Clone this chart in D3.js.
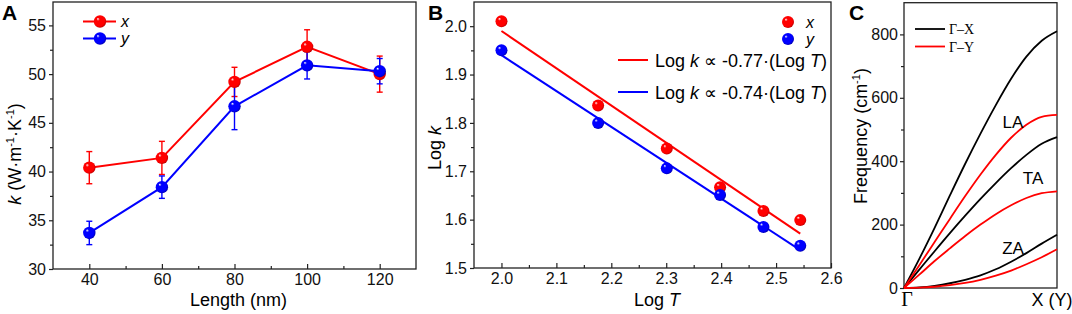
<!DOCTYPE html>
<html><head><meta charset="utf-8">
<script src="https://cdn.jsdelivr.net/npm/d3@7/dist/d3.min.js"></script>
<style>
body{margin:0;background:#fff;}
svg{display:block;font-family:Arial,"Liberation Sans",sans-serif;}
</style></head>
<body><svg id="c" width="1072" height="314"></svg>
<script>
// ---------- Panel A data ----------
const lengths = [40, 60, 80, 100, 120];
const kX = [40.4, 41.4, 49.2, 52.8, 50.0];
const kXErr = [1.65, 1.7, 1.5, 1.75, 1.85];
const kY = [33.7, 38.4, 46.7, 50.9, 50.3];
const kYErr = [1.2, 1.15, 2.4, 1.4, 1.3];
const ticksA_x = [40, 60, 80, 100, 120];
const ticksA_y = [30, 35, 40, 45, 50, 55];

// ---------- Panel B data ----------
const logT = [2.0, 2.176, 2.301, 2.398, 2.477, 2.544];
const logKx = [2.01, 1.836, 1.747, 1.667, 1.618, 1.599];
const logKy = [1.95, 1.80, 1.706, 1.651, 1.585, 1.546];
const fitT = [2.0, 2.544];
const fitKx = [1.99, 1.571];
const fitKy = [1.94, 1.537];
const ticksB_x = [2.0, 2.1, 2.2, 2.3, 2.4, 2.5, 2.6];
const ticksB_y = [1.5, 1.6, 1.7, 1.8, 1.9, 2.0];

// ---------- Panel C data ----------
const q = [0, 0.1, 0.2, 0.3, 0.4, 0.5, 0.6, 0.7, 0.8, 0.9, 1.0];
const laX = [0, 92, 190, 292, 392, 487, 577, 660, 730, 780, 810];
const laY = [0, 72, 145, 218, 290, 358, 420, 474, 515, 540, 546];
const taX = [0, 58, 116, 173, 228, 281, 331, 378, 420, 455, 476];
const taY = [0, 42, 85, 125, 164, 200, 233, 261, 284, 299, 305];
const zaX = [0, 2, 7, 15, 26, 40, 59, 83, 110, 140, 168];
const zaY = [0, 1, 4, 9, 16, 26, 39, 55, 75, 97, 122];
const ticksC_y = [0, 200, 400, 600, 800];

const RED = "#ff0000", BLUE = "#0000ff", FRAME = "#222";
const svg = d3.select("#c");

// sphere gradients
const defs = svg.append("defs");
function grad(id, col, dark) {
  const g = defs.append("radialGradient").attr("id", id)
    .attr("cx", "0.45").attr("cy", "0.45").attr("r", "0.6")
    .attr("fx", "0.32").attr("fy", "0.28");
  g.append("stop").attr("offset", "0").attr("stop-color", "#ffffff");
  g.append("stop").attr("offset", "0.22").attr("stop-color", col);
  g.append("stop").attr("offset", "0.75").attr("stop-color", col);
  g.append("stop").attr("offset", "1").attr("stop-color", dark);
}
grad("gR", RED, "#b00000");
grad("gB", BLUE, "#0000a0");

function frame(g, x0, x1, y0, y1) {
  g.append("rect").attr("x", x0).attr("y", y0).attr("width", x1 - x0).attr("height", y1 - y0)
    .attr("fill", "none").attr("stroke", FRAME).attr("stroke-width", 1.3);
}
function styleAxis(a) {
  a.select(".domain").remove();
  a.selectAll("line").attr("stroke", FRAME).attr("stroke-width", 1.2);
  a.selectAll("text").attr("font-size", 16).attr("fill", "#111");
}

// ================= Panel A =================
(function () {
  const L = 53, R = 416, T = 2, B = 269;
  const x = d3.scaleLinear().domain([30, 130]).range([L, R]);
  const y = d3.scaleLinear().domain([30, 57.4]).range([B, T]);
  const g = svg.append("g");
  const ax = g.append("g").attr("transform", `translate(0,${B})`)
    .call(d3.axisBottom(x).tickValues(d3.range(50, 130, 20)).tickSize(-3).tickFormat(""));
  styleAxis(ax);
  const ax2 = g.append("g").attr("transform", `translate(0,${B})`)
    .call(d3.axisBottom(x).tickValues(ticksA_x).tickSizeInner(-5).tickSizeOuter(0).tickPadding(5));
  styleAxis(ax2);
  ax2.selectAll("text").attr("dy", "0.71em");
  const ay = g.append("g").attr("transform", `translate(${L},0)`)
    .call(d3.axisLeft(y).tickValues(d3.range(32.5, 57.5, 5)).tickSize(3).tickFormat(""));
  styleAxis(ay);
  const ay2 = g.append("g").attr("transform", `translate(${L},0)`)
    .call(d3.axisLeft(y).tickValues(ticksA_y).tickSize(4).tickPadding(3));
  styleAxis(ay2);
  frame(g, L, R, T, B);

  const series = [{v: kX, e: kXErr, c: RED, gid: "gR"}, {v: kY, e: kYErr, c: BLUE, gid: "gB"}];
  series.forEach(s => {
    const line = d3.line().x((d, i) => x(lengths[i])).y(d => y(d));
    g.append("path").attr("d", line(s.v)).attr("fill", "none").attr("stroke", s.c).attr("stroke-width", 2);
  });
  series.forEach(s => {
    s.v.forEach((d, i) => {
      const cx = x(lengths[i]), y1 = y(d + s.e[i]), y0 = y(d - s.e[i]);
      g.append("line").attr("x1", cx).attr("x2", cx).attr("y1", y1).attr("y2", y0).attr("stroke", s.c).attr("stroke-width", 1.4);
      [y0, y1].forEach(yy => g.append("line").attr("x1", cx - 3).attr("x2", cx + 3).attr("y1", yy).attr("y2", yy).attr("stroke", s.c).attr("stroke-width", 1.4));
    });
  });
  series.forEach(s => {
    g.selectAll(null).data(s.v).enter().append("circle")
      .attr("cx", (d, i) => x(lengths[i])).attr("cy", d => y(d)).attr("r", 6.2)
      .attr("fill", `url(#${s.gid})`);
  });
  // legend
  [[RED, "gR", "x", 21.5], [BLUE, "gB", "y", 38.5]].forEach(([c, gid, t, yy]) => {
    g.append("line").attr("x1", 83).attr("x2", 116).attr("y1", yy).attr("y2", yy).attr("stroke", c).attr("stroke-width", 2);
    g.append("circle").attr("cx", 100).attr("cy", yy).attr("r", 6.2).attr("fill", `url(#${gid})`);
    g.append("text").attr("x", 121).attr("y", yy + 5.5).attr("font-size", 16).attr("font-style", "italic").text(t);
  });
  // labels
  g.append("text").attr("x", 2).attr("y", 20).attr("font-size", 21).attr("font-weight", "bold").text("A");
  g.append("text").attr("x", x(80) + 4).attr("y", 306).attr("text-anchor", "middle").attr("font-size", 18).text("Length (nm)");
  const yl = g.append("text").attr("transform", "translate(21,154) rotate(-90)").attr("text-anchor", "middle").attr("font-size", 18);
  yl.append("tspan").attr("font-style", "italic").text("k");
  yl.append("tspan").text(" (W·m");
  yl.append("tspan").attr("font-size", 11).attr("dy", -7).text("-1");
  yl.append("tspan").attr("dy", 7).text("·K");
  yl.append("tspan").attr("font-size", 11).attr("dy", -7).text("-1");
  yl.append("tspan").attr("dy", 7).text(")");
})();

// ================= Panel B =================
(function () {
  const L = 474, R = 831, T = 2, B = 268;
  const x = d3.scaleLinear().domain([1.95, 2.6]).range([L, R]);
  const y = d3.scaleLinear().domain([1.5, 2.05]).range([B, T]);
  const g = svg.append("g");
  const ax = g.append("g").attr("transform", `translate(0,${B})`)
    .call(d3.axisBottom(x).tickValues(d3.range(2.05, 2.6, 0.1)).tickSize(-3).tickFormat(""));
  styleAxis(ax);
  const ax2 = g.append("g").attr("transform", `translate(0,${B})`)
    .call(d3.axisBottom(x).tickValues(ticksB_x).tickSizeInner(-5).tickSizeOuter(0).tickPadding(5).tickFormat(d3.format(".1f")));
  styleAxis(ax2);
  ax2.selectAll("text").attr("dy", "0.71em");
  const ay = g.append("g").attr("transform", `translate(${L},0)`)
    .call(d3.axisLeft(y).tickValues(d3.range(1.55, 2.05, 0.1)).tickSize(3).tickFormat(""));
  styleAxis(ay);
  const ay2 = g.append("g").attr("transform", `translate(${L},0)`)
    .call(d3.axisLeft(y).tickValues(ticksB_y).tickSize(4).tickPadding(3).tickFormat(d3.format(".1f")));
  styleAxis(ay2);
  frame(g, L, R, T, B);

  const line = d3.line().x((d, i) => x(fitT[i])).y(d => y(d));
  g.append("path").attr("d", line(fitKx)).attr("fill", "none").attr("stroke", RED).attr("stroke-width", 2);
  g.append("path").attr("d", line(fitKy)).attr("fill", "none").attr("stroke", BLUE).attr("stroke-width", 2);
  [[logKx, "gR"], [logKy, "gB"]].forEach(([v, gid]) => {
    g.selectAll(null).data(v).enter().append("circle")
      .attr("cx", (d, i) => x(logT[i])).attr("cy", d => y(d)).attr("r", 6)
      .attr("fill", `url(#${gid})`);
  });
  // legend
  [["gR", "x", 22], ["gB", "y", 39]].forEach(([gid, t, yy]) => {
    g.append("circle").attr("cx", 788).attr("cy", yy).attr("r", 6).attr("fill", `url(#${gid})`);
    g.append("text").attr("x", 806).attr("y", yy + 5.5).attr("font-size", 16).attr("font-style", "italic").text(t);
  });
  [[RED, "-0.77", 60], [BLUE, "-0.74", 92]].forEach(([c, s, yy]) => {
    g.append("line").attr("x1", 618).attr("x2", 648).attr("y1", yy).attr("y2", yy).attr("stroke", c).attr("stroke-width", 2);
    const t = g.append("text").attr("x", 655).attr("y", yy + 6.5).attr("font-size", 18);
    t.append("tspan").text("Log ");
    t.append("tspan").attr("font-style", "italic").text("k");
    t.append("tspan").text(" ∝ " + s + "·(Log ");
    t.append("tspan").attr("font-style", "italic").text("T");
    t.append("tspan").text(")");
  });
  g.append("text").attr("x", 428).attr("y", 20).attr("font-size", 21).attr("font-weight", "bold").text("B");
  const xl = g.append("text").attr("x", 657).attr("y", 306).attr("text-anchor", "middle").attr("font-size", 18);
  xl.append("tspan").text("Log ");
  xl.append("tspan").attr("font-style", "italic").text("T");
  const yl = g.append("text").attr("transform", "translate(441,148) rotate(-90)").attr("text-anchor", "middle").attr("font-size", 18);
  yl.append("tspan").text("Log ");
  yl.append("tspan").attr("font-style", "italic").text("k");
})();

// ================= Panel C =================
(function () {
  const L = 904, R = 1057, T = 2.7, B = 288;
  const x = d3.scaleLinear().domain([0, 1]).range([L, R]);
  const y = d3.scaleLinear().domain([0, 900]).range([B, T]);
  const g = svg.append("g");
  const ay = g.append("g").attr("transform", `translate(${L},0)`)
    .call(d3.axisLeft(y).tickValues(d3.range(100, 900, 200)).tickSize(3).tickFormat(""));
  styleAxis(ay);
  const ay2 = g.append("g").attr("transform", `translate(${L},0)`)
    .call(d3.axisLeft(y).tickValues(ticksC_y).tickSize(4).tickPadding(2));
  styleAxis(ay2);
  frame(g, L, R, T, B);
  const line = d3.line().x((d, i) => x(q[i])).y(d => y(d)).curve(d3.curveMonotoneX);
  [[laX, "#000"], [taX, "#000"], [zaX, "#000"], [laY, RED], [taY, RED], [zaY, RED]].forEach(([v, c]) => {
    g.append("path").attr("d", line(v)).attr("fill", "none").attr("stroke", c).attr("stroke-width", 1.8);
  });
  [["LA", 1013, 128], ["TA", 1033, 184], ["ZA", 1013, 254]].forEach(([t, xx, yy]) => {
    g.append("text").attr("x", xx).attr("y", yy).attr("text-anchor", "middle").attr("font-size", 17).text(t);
  });
  [["#000", "Γ–X", 29], [RED, "Γ–Y", 46.5]].forEach(([c, t, yy]) => {
    g.append("line").attr("x1", 915).attr("x2", 945).attr("y1", yy).attr("y2", yy).attr("stroke", c).attr("stroke-width", 1.8);
    g.append("text").attr("x", 949).attr("y", yy + 5).attr("font-size", 14)
      .attr("font-family", "'Liberation Serif','Times New Roman',serif").text(t);
  });
  g.append("text").attr("x", L + 3).attr("y", 306).attr("text-anchor", "middle").attr("font-size", 20)
    .attr("font-family", "'Liberation Serif','Times New Roman',serif").text("Γ");
  g.append("text").attr("x", 1052).attr("y", 306).attr("text-anchor", "middle").attr("font-size", 18).text("X (Y)");
  g.append("text").attr("x", 849).attr("y", 20).attr("font-size", 21).attr("font-weight", "bold").text("C");
  const yl = g.append("text").attr("transform", "translate(867,136) rotate(-90)").attr("text-anchor", "middle").attr("font-size", 18);
  yl.append("tspan").text("Frequency (cm");
  yl.append("tspan").attr("font-size", 11).attr("dy", -7).text("-1");
  yl.append("tspan").attr("dy", 7).text(")");
})();
</script></body></html>
